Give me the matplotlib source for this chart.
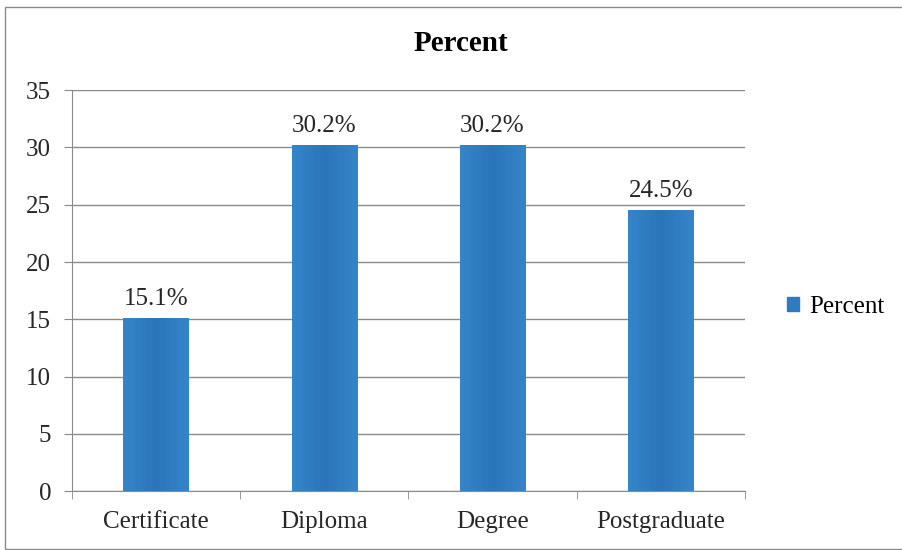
import matplotlib.pyplot as plt
import matplotlib.patches as mpatches
import numpy as np

categories = ['Certificate', 'Diploma', 'Degree', 'Postgraduate']
percent = [15.1, 30.2, 30.2, 24.5]
bar_labels = ['15.1%', '30.2%', '30.2%', '24.5%']

plt.rcParams['font.family'] = ['Liberation Serif', 'DejaVu Serif']

fig = plt.figure(figsize=(9.02, 5.5), dpi=100)
ax = fig.add_axes([0.0798, 0.107, 0.746, 0.729])

x = np.arange(len(categories))
bars = ax.bar(x, percent, width=0.39, color='#2e7bbf', zorder=2)

# soft shading across each bar
grad = np.linspace(0, 1, 64)
shade = np.abs(grad - 0.5) * 2
base = np.array([0.17, 0.46, 0.73])
edge = np.array([0.21, 0.52, 0.79])
img = base[None, :] + (edge - base)[None, :] * shade[:, None]
img = img[None, :, :]
for b in bars:
    x0, y0 = b.get_x(), b.get_y()
    w, h = b.get_width(), b.get_height()
    im = ax.imshow(img, extent=[x0, x0 + w, y0, y0 + h], aspect='auto', zorder=2.1)
    im.set_clip_path(b)

for xi, v, lab in zip(x, percent, bar_labels):
    ax.text(xi, v + 0.7, lab, ha='center', va='bottom', fontsize=18, color='#262626')

ax.set_xlim(-0.5, 3.5)
ax.set_ylim(0, 35)
ax.set_yticks(range(0, 36, 5))
ax.set_xticks(x)
ax.set_xticklabels(categories)
ax.set_xticks(np.arange(-0.5, 4, 1), minor=True)
ax.tick_params(axis='x', which='major', length=0, pad=14, labelsize=18, labelcolor='#262626')
ax.tick_params(axis='x', which='minor', length=6, color='#888888', direction='out')
ax.tick_params(axis='y', length=6, color='#888888', labelsize=18, pad=9, labelcolor='#262626')
ax.yaxis.grid(True, color='#8a8a8a', linewidth=1.0, zorder=0)
ax.set_axisbelow(True)
for s in ['top', 'right']:
    ax.spines[s].set_visible(False)
for s in ['left', 'bottom']:
    ax.spines[s].set_color('#8a8a8a')

fig.text(0.511, 0.921, 'Percent', ha='center', va='center', fontsize=21, fontweight='bold')

handle = mpatches.Patch(color='#2e7bbf', label='Percent')
fig.legend(handles=[handle], loc='center left', bbox_to_anchor=(0.853, 0.442),
           frameon=False, fontsize=18, handlelength=0.5, handleheight=0.5,
           handletextpad=0.4, borderpad=0.2)

fig.patches.append(mpatches.Rectangle((0.005, 0.002), 1.1, 0.985, transform=fig.transFigure,
                                      fill=False, edgecolor='#8a8a8a', linewidth=1.0))

fig.savefig('out.png', dpi=100)
